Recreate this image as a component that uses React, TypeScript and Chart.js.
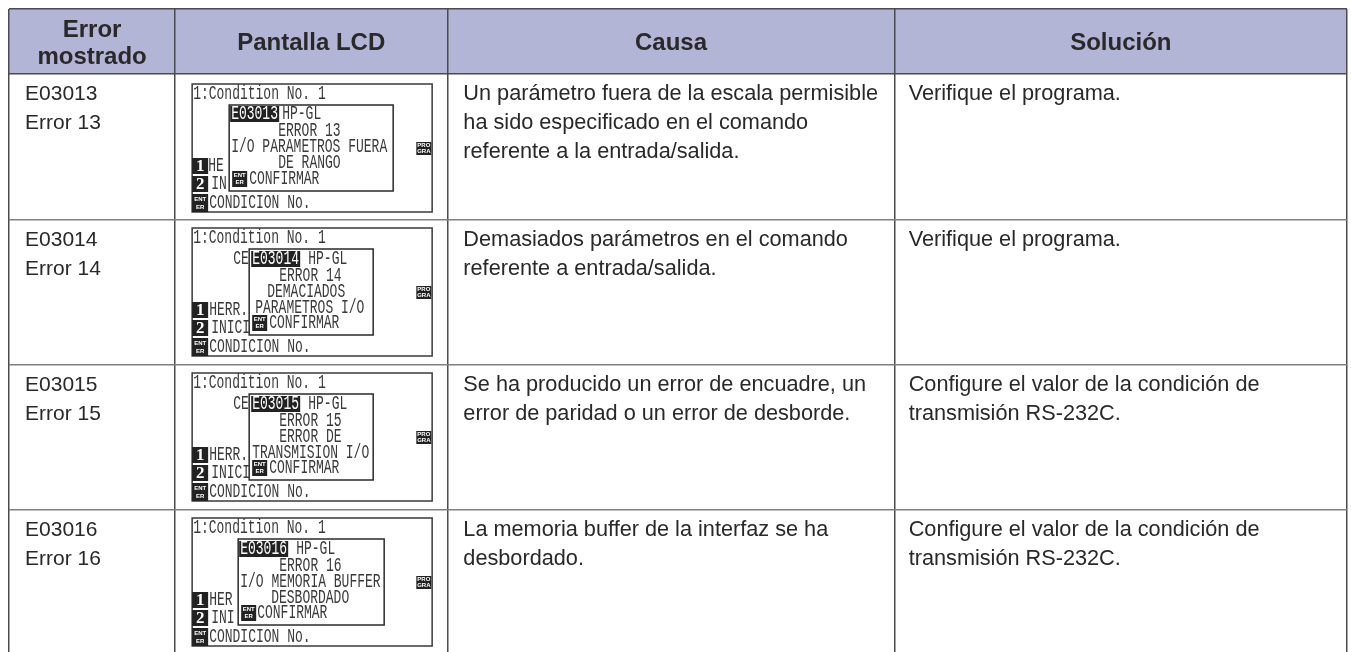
import React, { useEffect, useRef } from "react";
import { Chart, registerables } from "chart.js";

Chart.register(...registerables);

const headers = [["Error", "mostrado"], ["Pantalla LCD"], ["Causa"], ["Solución"]];
const errorCodes = [["E03013", "Error 13"], ["E03014", "Error 14"], ["E03015", "Error 15"], ["E03016", "Error 16"]];
const causes = [
  ["Un parámetro fuera de la escala permisible", "ha sido especificado en el comando", "referente a la entrada/salida."],
  ["Demasiados parámetros en el comando", "referente a entrada/salida."],
  ["Se ha producido un error de encuadre, un", "error de paridad o un error de desborde."],
  ["La memoria buffer de la interfaz se ha", "desbordado."],
];
const solutions = [
  ["Verifique el programa."],
  ["Verifique el programa."],
  ["Configure el valor de la condición de", "transmisión RS-232C."],
  ["Configure el valor de la condición de", "transmisión RS-232C."],
];

// LCD texts: [text, x, offset from screen top]
type Piece = [string, number, number];
const lcdTexts: Piece[][] = [
  [["E03013", 231, 30], ["HP-GL", 282, 30], ["ERROR 13", 278, 47], ["I/O PARAMETROS FUERA", 231, 63], ["DE RANGO", 278, 79], ["CONFIRMAR", 249, 95], ["HE", 208, 82], ["IN", 211, 100]],
  [["E03014", 252, 31], ["HP-GL", 308, 31], ["ERROR 14", 279, 48], ["DEMACIADOS", 267, 64], ["PARAMETROS I/O", 255, 80], ["CONFIRMAR", 269, 95], ["CE", 233, 31], ["HERR.", 209, 82], ["INICI", 211, 100]],
  [["E03015", 252, 31], ["HP-GL", 308, 31], ["ERROR 15", 279, 48], ["ERROR DE", 279, 64], ["TRANSMISION I/O", 252, 80], ["CONFIRMAR", 269, 95], ["CE", 233, 31], ["HERR.", 209, 82], ["INICI", 211, 100]],
  [["E03016", 240, 31], ["HP-GL", 296, 31], ["ERROR 16", 279, 48], ["I/O MEMORIA BUFFER", 240, 64], ["DESBORDADO", 271, 80], ["CONFIRMAR", 257, 95], ["HER", 209, 82], ["INI", 211, 100]],
];
const lcdTitle = "1:Condition No. 1";
const lcdFooter = "CONDICION No.";
const screenTops = [84, 228, 373, 518];
const popupBoxes = [[229, 393], [249, 373], [249, 373], [238, 384]];

// table geometry, in page pixels
const TABLE_LEFT = 9;
const TABLE_TOP = 9;
const columnEdges = [9, 175, 447, 894, 1346];
const rowEdges = [9, 74, 220, 365, 510];
const DARK = "#4b4b4d";
const ROW = "#808082";
const INK = "#2a2829";

const tablePlugin = {
  id: "table",
  beforeDraw(chart: any) {
    const { ctx } = chart;
    const x = chart.scales.x;
    const y = chart.scales.y;
    const px = (v: number) => x.getPixelForValue(v - TABLE_LEFT);
    const py = (v: number) => y.getPixelForValue(v - TABLE_TOP);
    ctx.save();
    ctx.fillStyle = "#b2b5d6";
    ctx.fillRect(px(9), py(9), px(1346) - px(9), py(74) - py(9));
    ctx.restore();
  },
  afterDraw(chart: any) {
    const { ctx } = chart;
    const x = chart.scales.x;
    const y = chart.scales.y;
    const px = (v: number) => x.getPixelForValue(v - TABLE_LEFT);
    const py = (v: number) => y.getPixelForValue(v - TABLE_TOP);
    ctx.save();
    ctx.textBaseline = "middle";

    // header
    ctx.fillStyle = INK;
    ctx.textAlign = "center";
    ctx.font = "bold 24px 'Liberation Sans'";
    headers.forEach((lines, c) => {
      const cx = (px(columnEdges[c]) + px(columnEdges[c + 1])) / 2;
      const step = 27;
      lines.forEach((t, i) => {
        ctx.fillText(t, cx, py(43.5) + (i - (lines.length - 1) / 2) * step);
      });
    });

    // body text
    ctx.textAlign = "left";
    const column = (rows: string[][], left: number, size: number) => {
      ctx.font = size + "px 'Liberation Sans'";
      rows.forEach((lines, r) => {
        lines.forEach((t, i) => {
          ctx.fillText(t, px(left), py(rowEdges[r + 1] + 20 + i * 29));
        });
      });
    };
    column(errorCodes, 25, 21);
    column(causes, 463, 21.7);
    column(solutions, 908, 21.7);

    // LCD screens
    const lcdText = (t: string, tx: number, cy: number, color = "#3a3a3a") => {
      ctx.save();
      ctx.translate(px(tx), py(cy));
      ctx.scale(1, 1.5);
      ctx.font = "13px 'Liberation Mono'";
      ctx.fillStyle = color;
      ctx.fillText(t, 0, 0);
      ctx.restore();
    };
    const badge = (bx: number, by: number, w: number, h: number) => {
      ctx.fillStyle = "#222";
      ctx.fillRect(px(bx), py(by), w, h);
    };
    const miniLabel = (a: string, b: string, bx: number, by: number, w: number, h: number) => {
      badge(bx, by, w, h);
      ctx.fillStyle = "#fff";
      ctx.textAlign = "center";
      ctx.font = "bold 6px 'Liberation Sans'";
      ctx.fillText(a, px(bx) + w / 2, py(by) + h * 0.28);
      ctx.fillText(b, px(bx) + w / 2, py(by) + h * 0.72);
      ctx.textAlign = "left";
    };
    const bigDigit = (d: string, bx: number, by: number) => {
      badge(bx, by, 16, 16);
      ctx.fillStyle = "#fff";
      ctx.textAlign = "center";
      ctx.font = "bold 17px 'Liberation Serif'";
      ctx.fillText(d, px(bx) + 8, py(by) + 9);
      ctx.textAlign = "left";
    };
    screenTops.forEach((top, r) => {
      const [pl, pr] = popupBoxes[r];
      // screen frame
      ctx.strokeStyle = "#3a3a3a";
      ctx.lineWidth = 1.5;
      ctx.strokeRect(px(192), py(top), 240, 128);
      lcdText(lcdTitle, 193, top + 10);
      const pieces = lcdTexts[r];
      // labels behind popup, then popup, then its contents
      pieces.slice(6).forEach(([t, tx, off]) => lcdText(t, tx, top + off));
      bigDigit("1", 192, top + 74);
      bigDigit("2", 192, top + 92);
      miniLabel("ENT", "ER", 192, top + 110, 16, 18);
      lcdText(lcdFooter, 209, top + 119);
      ctx.fillStyle = "#fff";
      ctx.fillRect(px(pl), py(top + 21), pr - pl, 86);
      ctx.strokeStyle = "#2a2a2a";
      ctx.lineWidth = 1.5;
      ctx.strokeRect(px(pl), py(top + 21), pr - pl, 86);
      // highlighted code
      const [code, cx, cOff] = pieces[0];
      badge(cx - 1, top + cOff - 8, 49, 16);
      lcdText(code, cx, top + cOff, "#fff");
      pieces.slice(1, 6).forEach(([t, tx, off]) => lcdText(t, tx, top + off));
      miniLabel("ENT", "ER", pl + 3, top + 87, 15, 16);
      miniLabel("PRO", "GRA", 416, top + 58, 15, 13);
    });
    ctx.restore();
  },
};

export default function App() {
  const ref = useRef<HTMLCanvasElement>(null);
  useEffect(() => {
    document.body.style.background = "#fff";
    const chart = new Chart(ref.current!, {
      type: "scatter",
      data: { datasets: [{ data: [] }] },
      plugins: [tablePlugin],
      options: {
        animation: false,
        responsive: false,
        layout: { padding: { left: TABLE_LEFT, top: TABLE_TOP, right: 4, bottom: 0 } },
        plugins: { legend: { display: false }, tooltip: { enabled: false } },
        scales: {
          x: {
            type: "linear",
            min: 0,
            max: 1337,
            afterBuildTicks: (s: any) => {
              s.ticks = columnEdges.map((v) => ({ value: v - TABLE_LEFT }));
            },
            ticks: { display: false, autoSkip: false },
            border: { display: false },
            grid: { color: DARK, lineWidth: 1.5, drawTicks: false },
          },
          y: {
            type: "linear",
            reverse: true,
            min: 0,
            max: 643,
            afterBuildTicks: (s: any) => {
              s.ticks = rowEdges.map((v) => ({ value: v - TABLE_TOP }));
            },
            ticks: { display: false, autoSkip: false },
            border: { display: false },
            grid: {
              color: (c: any) => (c.index < 2 ? DARK : ROW),
              lineWidth: 1.5,
              drawTicks: false,
            },
          },
        },
      },
    } as any);
    return () => chart.destroy();
  }, []);
  return (
    <canvas
      ref={ref}
      width={1351}
      height={652}
      style={{ position: "fixed", left: 0, top: 0, width: 1351, height: 652 }}
    />
  );
}
